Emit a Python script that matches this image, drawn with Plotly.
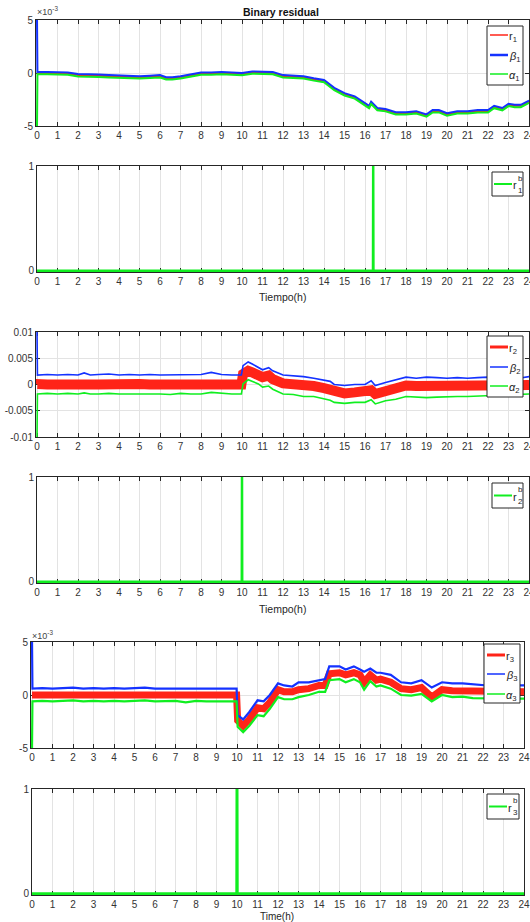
import plotly.graph_objects as go

W, H = 530, 922
FONT = "Liberation Sans, Arial, sans-serif"
SCALE = 1e-3

# ---------------- data (residual values in units of 1e-3) ----------------
t1 = [0, 0.02, 0.5, 1, 1.5, 2, 2.5, 3, 3.5, 4, 4.5, 5, 5.5, 6, 6.3, 6.6, 7, 7.5, 8, 8.5,
      9, 9.5, 10, 10.5, 11, 11.5, 12, 12.5, 13, 13.5, 14, 14.5, 15, 15.5, 16, 16.2, 16.3,
      16.6, 17, 17.5, 18, 18.5, 19, 19.3, 19.6, 20, 20.5, 21, 21.5, 22, 22.3, 22.7, 23,
      23.3, 23.6, 24]
r1 = [0, 0, 0, 0, -0.05, -0.2, -0.2, -0.25, -0.3, -0.35, -0.4, -0.4, -0.35, -0.3, -0.5,
      -0.5, -0.4, -0.2, -0.05, -0.05, 0.0, -0.05, -0.1, 0.05, 0.05, 0.0, -0.3, -0.35, -0.4,
      -0.6, -0.75, -1.5, -2.0, -2.3, -2.9, -3.2, -2.8, -3.4, -3.5, -3.8, -3.8, -3.7, -4.0,
      -3.6, -3.6, -3.9, -3.7, -3.7, -3.6, -3.6, -3.2, -3.4, -3.0, -3.1, -3.1, -2.7]
beta1 = [5.0, 0.1, 0.1, 0.1, 0.05, -0.1, -0.1, -0.15, -0.2, -0.25, -0.3, -0.3, -0.25, -0.2,
         -0.4, -0.4, -0.3, -0.1, 0.05, 0.05, 0.1, 0.05, 0.0, 0.15, 0.15, 0.1, -0.2, -0.25,
         -0.3, -0.5, -0.65, -1.4, -1.9, -2.2, -2.8, -3.1, -2.7, -3.3, -3.4, -3.7, -3.7, -3.6,
         -3.9, -3.5, -3.5, -3.8, -3.6, -3.6, -3.5, -3.5, -3.1, -3.3, -2.9, -3.0, -3.0, -2.6]
alpha1 = [-5.0, -0.12, -0.12, -0.12, -0.17, -0.32, -0.32, -0.37, -0.42, -0.47, -0.52, -0.52,
          -0.47, -0.42, -0.62, -0.62, -0.52, -0.32, -0.17, -0.17, -0.12, -0.17, -0.22, -0.07,
          -0.07, -0.12, -0.42, -0.47, -0.52, -0.72, -0.87, -1.62, -2.12, -2.42, -3.02, -3.32,
          -2.92, -3.52, -3.62, -3.92, -3.92, -3.82, -4.12, -3.72, -3.72, -4.02, -3.82, -3.82,
          -3.72, -3.72, -3.32, -3.52, -3.12, -3.22, -3.22, -2.82]

t2 = [0, 0.02, 0.5, 1, 1.5, 2, 2.3, 2.6, 3, 3.5, 4, 4.5, 5, 5.5, 6, 6.5, 7, 7.5, 8, 8.5, 9,
      9.5, 9.97, 10.05, 10.3, 10.5, 10.8, 11, 11.3, 11.5, 12, 12.5, 13, 13.5, 14, 14.3, 14.5,
      15, 15.5, 16, 16.3, 16.5, 17, 17.5, 18, 18.5, 19, 19.5, 20, 20.5, 21, 21.5, 22, 22.5,
      23, 23.5, 24]
r2 = [0.0, 0.1, 0.0, 0.1, 0.0, -0.1, 0.1, 0.0, 0.0, 0.1, 0.0, 0.0, 0.1, 0.0, 0.0, 0.0, 0.1,
      0.0, 0.1, 0.2, 0.1, 0.0, 0.0, 2.0, 2.6, 2.3, 1.8, 1.4, 1.7, 1.0, 0.2, 0.1, 0.0, -0.3,
      -0.7, -0.9, -1.5, -1.7, -1.5, -1.5, -1.1, -1.8, -1.2, -0.7, -0.2, -0.3, -0.3, -0.3,
      -0.3, -0.3, -0.3, -0.25, -0.2, -0.2, -0.15, -0.1, -0.1]
beta2 = [10.0, 1.8, 1.9, 1.8, 1.9, 1.8, 2.2, 1.8, 1.9, 2.0, 1.8, 1.9, 1.8, 1.9, 1.8, 1.8,
         1.9, 1.8, 1.9, 2.3, 1.9, 1.8, 1.8, 3.6, 4.3, 3.9, 3.3, 2.8, 3.2, 2.6, 1.8, 1.7, 1.5,
         1.2, 0.9, 0.6, 0.0, -0.2, 0.0, 0.0, 0.7, -0.2, 0.4, 0.9, 1.4, 1.2, 1.4, 1.3, 1.2,
         1.3, 1.2, 1.3, 1.4, 1.2, 1.3, 1.2, 1.5]
alpha2 = [-10.0, -1.8, -1.7, -1.8, -1.7, -1.8, -1.6, -1.8, -1.8, -1.7, -1.8, -1.8, -1.7,
          -1.8, -1.8, -1.9, -1.7, -1.8, -1.8, -1.5, -1.7, -1.8, -1.8, 0.1, 0.9, 0.6, 0.1,
          -0.5, -0.3, -0.9, -1.8, -1.9, -2.3, -2.3, -2.8, -3.0, -3.4, -3.6, -3.4, -3.4, -2.9,
          -3.7, -3.1, -2.8, -2.3, -2.4, -2.5, -2.4, -2.3, -2.3, -2.3, -2.2, -2.1, -2.1, -2.0,
          -1.9, -1.8]

t3 = [0, 0.02, 0.5, 1, 1.5, 2, 2.5, 3, 3.5, 4, 4.5, 5, 5.5, 6, 6.5, 7, 7.5, 8, 8.5, 9, 9.5,
      9.98, 10.03, 10.3, 10.6, 11, 11.3, 11.6, 12, 12.3, 12.7, 13, 13.5, 14, 14.3, 14.5, 15,
      15.3, 15.7, 16, 16.2, 16.5, 16.8, 17, 17.5, 18, 18.5, 19, 19.5, 20, 20.5, 21, 21.5,
      22, 22.5, 23, 24]
r3 = [0.0, 0.0, 0.05, 0.0, 0.05, 0.1, 0.0, 0.05, 0.0, 0.05, 0.0, 0.05, 0.1, 0.0, 0.0, 0.05,
      0.0, 0.05, 0.0, 0.0, 0.05, 0.0, -2.4, -2.9, -2.3, -1.2, -1.3, -0.7, 0.5, 0.3, 0.3, 0.5,
      0.6, 0.9, 0.9, 2.0, 2.1, 1.9, 2.1, 1.9, 1.2, 1.9, 1.4, 1.5, 1.2, 0.6, 0.5, 0.7, -0.2,
      0.5, 0.4, 0.4, 0.3, 0.4, 0.3, 0.3, 0.3]
beta3 = [5.0, 0.6, 0.65, 0.6, 0.65, 0.7, 0.6, 0.65, 0.6, 0.65, 0.6, 0.65, 0.7, 0.6, 0.6, 0.65,
         0.6, 0.65, 0.6, 0.6, 0.65, 0.6, -1.9, -2.3, -1.6, -0.5, -0.6, 0.0, 1.1, 0.9, 0.8,
         1.2, 1.2, 1.4, 1.5, 2.7, 2.7, 2.4, 2.7, 2.4, 2.2, 2.5, 2.1, 2.1, 1.9, 1.2, 1.1, 1.4,
         0.7, 1.2, 1.1, 1.1, 1.0, 0.9, 0.85, 0.9, 0.9]
alpha3 = [-5.0, -0.6, -0.55, -0.6, -0.55, -0.5, -0.6, -0.55, -0.6, -0.55, -0.6, -0.55, -0.5,
          -0.6, -0.6, -0.55, -0.7, -0.55, -0.6, -0.6, -0.55, -0.6, -3.0, -3.5, -2.9, -1.9,
          -2.0, -1.3, -0.2, -0.4, -0.4, -0.2, 0.0, 0.3, 0.3, 1.4, 1.5, 1.2, 1.5, 1.2, 0.5,
          1.3, 0.8, 0.9, 0.6, 0.0, -0.05, 0.1, -0.6, 0.0, -0.2, -0.15, -0.3, -0.3, -0.35,
          -0.35, -0.35]

# binary residuals (0/1)
tb1 = [0, 16.39, 16.4, 16.41, 24]
rb1 = [0, 0, 1, 0, 0]
tb2 = [0, 9.99, 10.0, 10.01, 24]
rb2 = [0, 0, 1, 0, 0]
tb3 = [0, 9.99, 10.0, 10.01, 24]
rb3 = [0, 0, 1, 0, 0]

hours = list(range(0, 25))
hour_labels = [str(h) for h in hours]

# ---------------- styling ----------------
RED = "#ff2418"
BLUE = "#1432ff"
GREEN = "#10ee20"
AXC = "#262626"
GRID = "#e3e3e3"


def sc(v):
    return [x * SCALE for x in v]


fig = go.Figure()

# panels: (top px, bottom px, left px, right px)
panels = [
    (20, 126, 36, 529),
    (166, 272, 37, 529),
    (332, 437, 36, 529),
    (477, 583, 37, 529),
    (642, 748, 31, 524),
    (789, 895, 32, 524),
]

yinfo = [
    ([-0.005, 0.005], [-0.005, 0, 0.005], ["-5", "0", "5"]),
    ([-0.012, 1], [0, 1], ["0", "1"]),
    ([-0.01, 0.01], [-0.01, -0.005, 0, 0.005, 0.01], ["-0.01", "-0.005", "0", "0.005", "0.01"]),
    ([-0.012, 1], [0, 1], ["0", "1"]),
    ([-0.005, 0.005], [-0.005, 0, 0.005], ["-5", "0", "5"]),
    ([-0.012, 1], [0, 1], ["0", "1"]),
]

layout = dict(
    width=W, height=H, autosize=False,
    margin=dict(l=0, r=0, t=0, b=0, pad=0),
    paper_bgcolor="white", plot_bgcolor="white",
    showlegend=False,
    font=dict(family=FONT, size=10, color=AXC),
)

for i, ((top, bot, lft, rgt), (yr, yv, yt)) in enumerate(zip(panels, yinfo), start=1):
    xr = [-0.05, 24] if i in (1, 3, 5) else [0, 24]
    sfx = "" if i == 1 else str(i)
    layout["xaxis" + sfx] = dict(
        domain=[lft / W, rgt / W], anchor="y" + sfx, range=xr, automargin=False,
        tickvals=hours, ticktext=hour_labels, ticks="inside", ticklen=4,
        tickcolor=AXC, showline=True, linecolor=AXC, linewidth=1, mirror="ticks",
        showgrid=True, gridcolor=GRID, gridwidth=1, zeroline=False,
        tickfont=dict(family=FONT, size=10, color="#333333"), layer="below traces",
        ticklabeloverflow="allow", fixedrange=True,
    )
    layout["yaxis" + sfx] = dict(
        domain=[1 - bot / H, 1 - top / H], anchor="x" + sfx, range=yr, automargin=False,
        tickvals=yv, ticktext=yt, ticks="inside", ticklen=4,
        tickcolor=AXC, showline=True, linecolor=AXC, linewidth=1, mirror="ticks",
        showgrid=True, gridcolor=GRID, gridwidth=1, zeroline=False,
        tickfont=dict(family=FONT, size=10, color="#333333"), layer="below traces",
        ticklabeloverflow="allow", fixedrange=True,
    )


def add(x, y, color, width, ax):
    sfx = "" if ax == 1 else str(ax)
    fig.add_trace(go.Scatter(x=x, y=y, mode="lines", line=dict(color=color, width=width),
                             xaxis="x" + sfx, yaxis="y" + sfx, hoverinfo="skip"))


add(t1, sc(r1), RED, 2, 1)
add(t1, sc(beta1), BLUE, 2, 1)
add(t1, sc(alpha1), GREEN, 2, 1)
add(tb1, rb1, GREEN, 2.5, 2)
add(t2, sc(r2), RED, 10, 3)
add(t2, sc(beta2), BLUE, 1.6, 3)
add(t2, sc(alpha2), GREEN, 1.6, 3)
add(tb2, rb2, GREEN, 2.5, 4)
add(t3, sc(r3), RED, 7, 5)
add(t3, sc(beta3), BLUE, 2.2, 5)
add(t3, sc(alpha3), GREEN, 2.2, 5)
add(tb3, rb3, GREEN, 3, 6)

shapes = []
annotations = []


def px(xp):
    return xp / W


def py(yp):
    return 1 - yp / H


def text(t, x, y, size=10, xanchor="center", color=AXC, yanchor="middle"):
    annotations.append(dict(text=t, x=px(x), y=py(y), xref="paper", yref="paper",
                            xanchor=xanchor, yanchor=yanchor, showarrow=False,
                            borderpad=0,
                            font=dict(family=FONT, size=size, color=color)))


def legend_box(x0, x1, y0, y1):
    shapes.append(dict(type="rect", xref="paper", yref="paper", x0=px(x0), x1=px(x1),
                       y0=py(y1), y1=py(y0), line=dict(color=AXC, width=1),
                       fillcolor="white", layer="above"))


def legend_line(x0, x1, yc, color, width):
    shapes.append(dict(type="line", xref="paper", yref="paper", x0=px(x0), x1=px(x1),
                       y0=py(yc), y1=py(yc), line=dict(color=color, width=width),
                       layer="above"))


def legend3(x0, x1, y0, y1, ys, n, widths):
    legend_box(x0, x1, y0, y1)
    labels = ["r<sub>%d</sub>" % n, "<i>β</i><sub>%d</sub>" % n, "<i>α</i><sub>%d</sub>" % n]
    for yc, col, lab, w in zip(ys, [RED, BLUE, GREEN], labels, widths):
        legend_line(x0 + 3, x0 + 21, yc, col, w)
        text(lab, x0 + 21, yc + 2, size=11, xanchor="left")


def legend_bin(x0, x1, y0, y1, n):
    legend_box(x0, x1, y0, y1)
    yc = (y0 + y1) / 2
    legend_line(x0 + 2, x0 + 20, yc, GREEN, 2)
    text("r", x0 + 20, yc + 1, size=11, xanchor="left")
    text("b", x0 + 25, yc - 6, size=8, xanchor="left")
    text(str(n), x0 + 25, yc + 6, size=8, xanchor="left")


legend3(487, 523, 26, 85, [35, 55, 74], 1, [1.5, 2.5, 1.5])
legend_bin(492, 523, 172, 196, 1)
legend3(487, 523, 336, 397, [347, 367, 386], 2, [3, 1.5, 1.5])
legend_bin(492, 523, 483, 508, 2)
legend3(484, 520, 644, 703, [655, 674, 694], 3, [3, 1.5, 1.5])
legend_bin(487, 519, 794, 819, 3)

# title, exponent labels, axis titles
text("<b>Binary residual</b>", 281, 12, size=10.5, color="#111111")
text("×10<sup>-3</sup>", 36, 11, size=9, xanchor="left", color="#444444")
text("×10<sup>-3</sup>", 31, 635, size=9, xanchor="left", color="#444444")
text("Tiempo(h)", 282, 297, size=10.5)
text("Tiempo(h)", 282, 609, size=10.5)
text("Time(h)", 277, 916, size=10)

layout["shapes"] = shapes
layout["annotations"] = annotations
fig.update_layout(**layout)

fig.write_html(
    "out.html",
    config={"displayModeBar": False, "staticPlot": True},
    post_script="document.body.style.margin='0';document.body.style.overflow='hidden';",
)
